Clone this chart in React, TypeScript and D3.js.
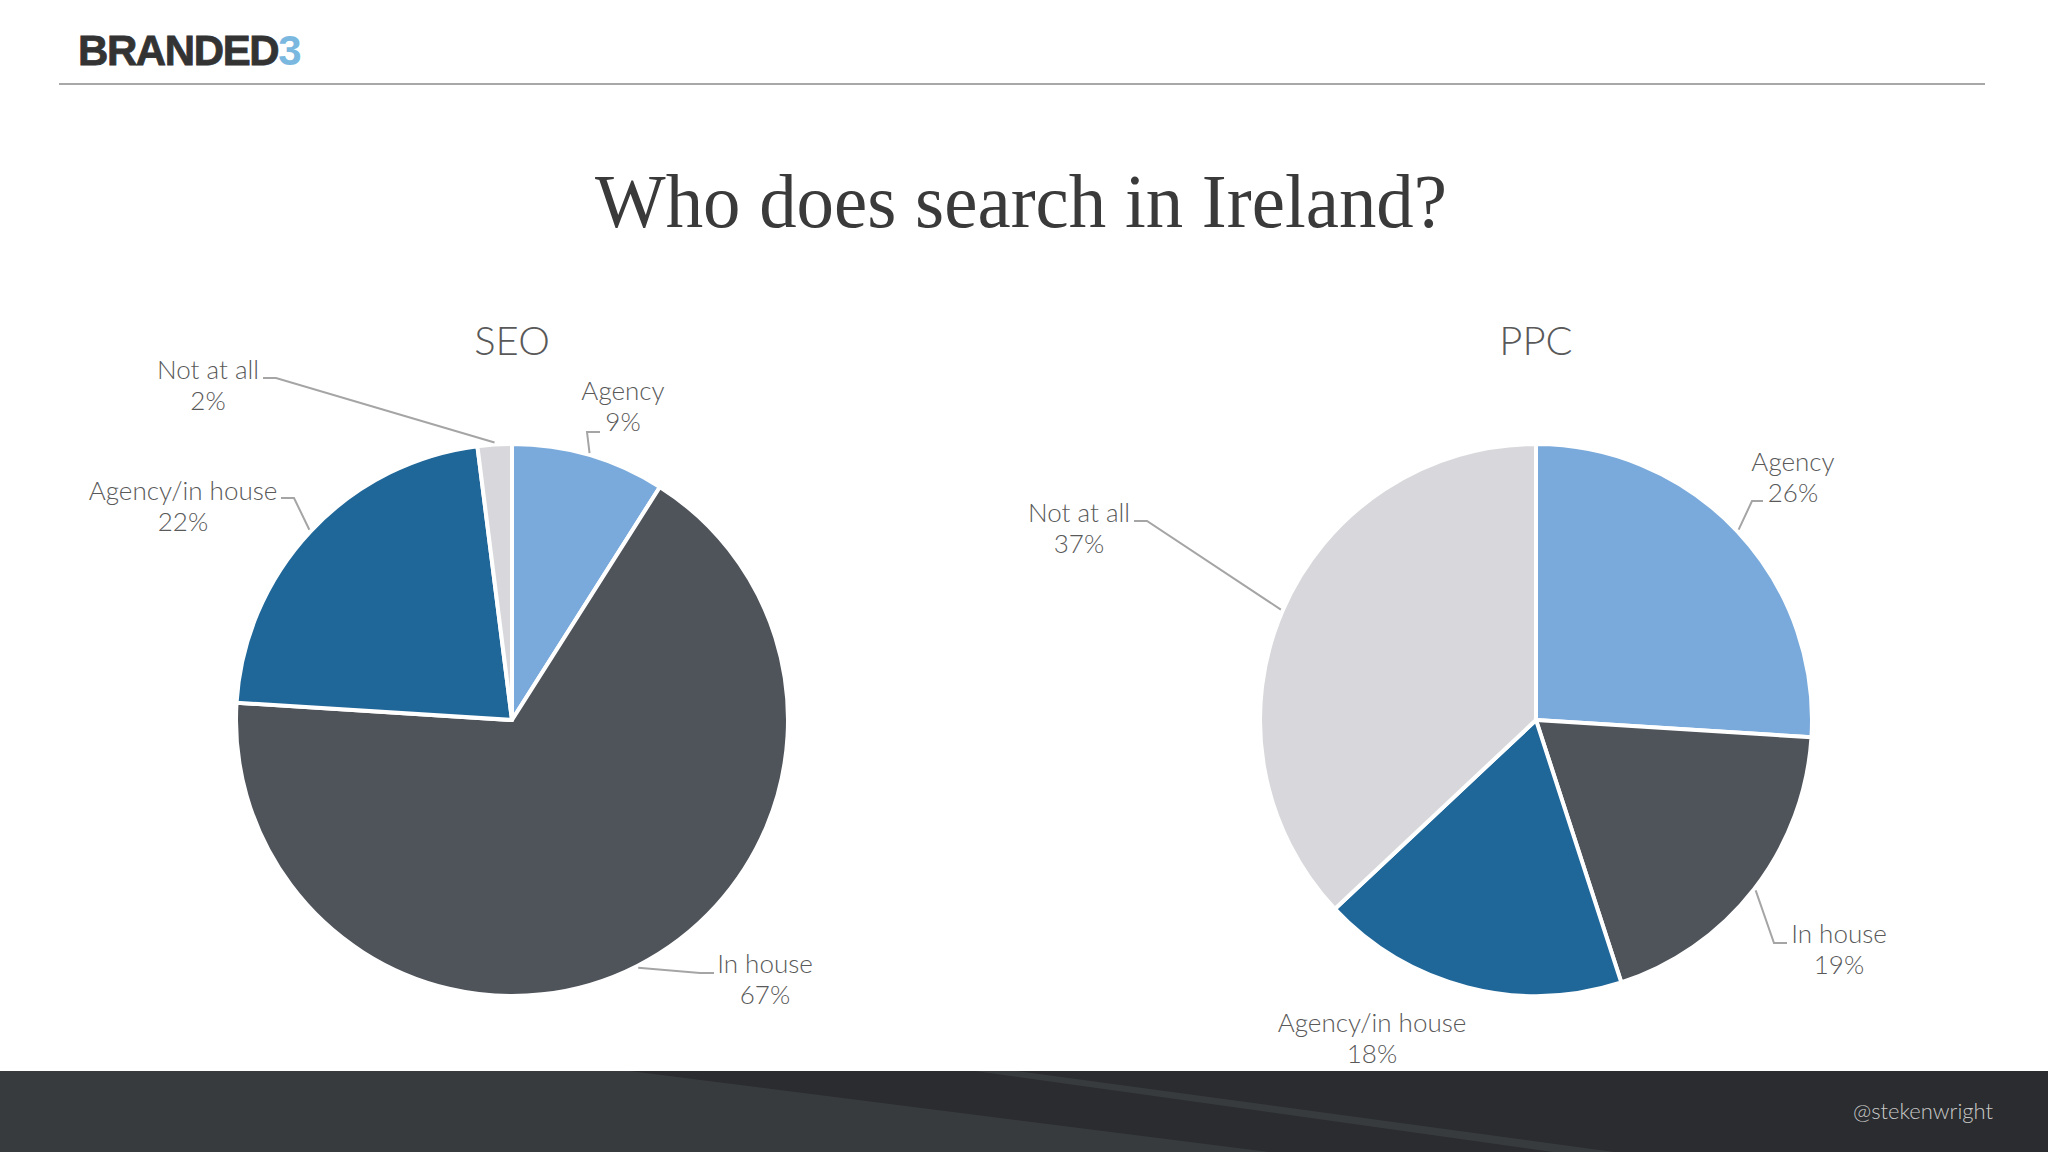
import { useEffect, useRef } from 'react';
import * as d3 from 'd3';

// Chart data
const categories = ['Agency', 'In house', 'Agency/in house', 'Not at all'];
const seoValues = [9, 67, 22, 2];
const ppcValues = [26, 19, 18, 37];
const sliceColors = ['#7aaadb', '#4f545b', '#1f6699', '#d8d7db'];

const WIDTH = 2048;
const HEIGHT = 1152;
const RADIUS = 276;

// label layout, offsets from pie centre: text centre + leader elbow/end (null = no leader)
const seoLabels = [
  { tx: 111, ty: -320, leader: [[75, -288], [88, -288]] },
  { tx: 253, ty: 253, leader: [[188, 253], [202, 253]] },
  { tx: -329, ty: -220, leader: [[-218, -222], [-231, -222]] },
  { tx: -304, ty: -341, leader: [[-236, -342], [-249, -342]] },
];
const ppcLabels = [
  { tx: 257, ty: -249, leader: [[216, -219], [227, -219]] },
  { tx: 303, ty: 223, leader: [[238, 223], [251, 223]] },
  { tx: -164, ty: 312, leader: null },
  { tx: -457, ty: -198, leader: [[-389, -199], [-402, -199]] },
];

export default function App() {
  const svgRef = useRef<SVGSVGElement>(null);

  useEffect(() => {
    if (!svgRef.current) return;
    document.body.style.margin = '0';

    const svg = d3.select(svgRef.current);
    svg.selectAll('*').remove();

    svg.attr('width', WIDTH).attr('height', HEIGHT).attr('viewBox', `0 0 ${WIDTH} ${HEIGHT}`);

    svg.append('rect').attr('width', WIDTH).attr('height', HEIGHT).attr('fill', '#ffffff');

    // Header: logo + rule
    const logo = svg.append('text')
      .attr('x', 78)
      .attr('y', 65)
      .attr('font-family', '"Liberation Sans", Arial, sans-serif')
      .attr('font-weight', 'bold')
      .attr('font-size', 42)
      .attr('letter-spacing', -1.4)
      .attr('fill', '#333333');
    logo.append('tspan').attr('stroke', '#333333').attr('stroke-width', 0.8).text('BRANDED');
    logo.append('tspan').attr('fill', '#7ab8e0').text('3');

    svg.append('line')
      .attr('x1', 59).attr('x2', 1985)
      .attr('y1', 84).attr('y2', 84)
      .attr('stroke', '#a8a8a8')
      .attr('stroke-width', 2);

    // Title
    svg.append('text')
      .attr('x', 1021)
      .attr('y', 227)
      .attr('text-anchor', 'middle')
      .attr('font-family', '"Liberation Serif", "DejaVu Serif", serif')
      .attr('font-size', 76)
      .attr('textLength', 852)
      .attr('lengthAdjust', 'spacingAndGlyphs')
      .attr('fill', '#3a3a3a')
      .text('Who does search in Ireland?');

    // Footer band
    const footer = svg.append('g');
    footer.append('rect').attr('x', 0).attr('y', 1071).attr('width', WIDTH).attr('height', 81).attr('fill', '#2a2c2f');
    footer.append('path')
      .attr('d', 'M0,1071 L630,1071 L1269,1152 L0,1152 Z')
      .attr('fill', '#383b3e');
    footer.append('path')
      .attr('d', 'M975,1071 L1017,1071 L1614,1152 L1553,1152 Z')
      .attr('fill', '#383b3e');
    footer.append('text')
      .attr('x', 1993)
      .attr('y', 1119)
      .attr('text-anchor', 'end')
      .attr('font-family', 'Lato, "Open Sans", sans-serif')
      .attr('font-weight', 300)
      .attr('font-size', 22)
      .attr('fill', '#c9c9c9')
      .text('@stekenwright');

    const pie = d3.pie<number>().sort(null).value((d) => d);
    const arc = d3.arc<d3.PieArcDatum<number>>().innerRadius(0).outerRadius(RADIUS);
    const lineGen = d3.line();

    const drawPie = (cx: number, cy: number, title: string, values: number[], labels: any[]) => {
      const g = svg.append('g').attr('transform', `translate(${cx},${cy})`);

      svg.append('text')
        .attr('x', cx)
        .attr('y', 355)
        .attr('text-anchor', 'middle')
        .attr('font-family', 'Lato, "Open Sans", sans-serif')
        .attr('font-weight', 300)
        .attr('font-size', 40)
        .attr('fill', '#595959')
        .text(title);

      const arcs = pie(values);

      g.selectAll('path.slice')
        .data(arcs)
        .join('path')
        .attr('class', 'slice')
        .attr('d', arc)
        .attr('fill', (_d, i) => sliceColors[i])
        .attr('stroke', '#ffffff')
        .attr('stroke-width', 4)
        .attr('stroke-linejoin', 'round');

      arcs.forEach((a, i) => {
        const lab = labels[i];
        const mid = (a.startAngle + a.endAngle) / 2;
        const r = RADIUS + 2;
        const start: [number, number] = [Math.sin(mid) * r, -Math.cos(mid) * r];

        if (lab.leader) {
          g.append('path')
            .attr('d', lineGen([start, ...lab.leader]))
            .attr('fill', 'none')
            .attr('stroke', '#a5a5a5')
            .attr('stroke-width', 2);
        }

        const t = g.append('text')
          .attr('text-anchor', 'middle')
          .attr('font-family', 'Lato, "Open Sans", sans-serif')
          .attr('font-weight', 300)
          .attr('font-size', 26)
          .attr('fill', '#595959');
        t.append('tspan').attr('x', lab.tx).attr('y', lab.ty).text(categories[i]);
        t.append('tspan').attr('x', lab.tx).attr('y', lab.ty + 31).text(`${a.data}%`);
      });
    };

    drawPie(512, 720, 'SEO', seoValues, seoLabels);
    drawPie(1536, 720, 'PPC', ppcValues, ppcLabels);
  }, []);

  return <svg ref={svgRef} style={{ display: 'block' }} />;
}
